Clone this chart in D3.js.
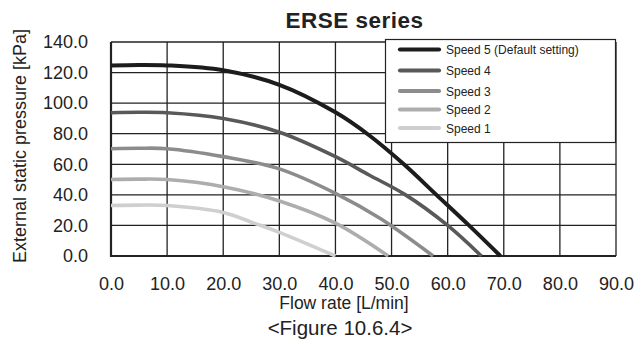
<!DOCTYPE html>
<html><head><meta charset="utf-8">
<script src="https://cdn.jsdelivr.net/npm/d3@7"></script>
<style>body{margin:0;background:#fff}svg{display:block;font-family:Arial,"Liberation Sans",sans-serif}</style>
</head><body><svg id="c" width="639" height="340"></svg>
<script>
const seriesNames = ["Speed 5 (Default setting)","Speed 4","Speed 3","Speed 2","Speed 1"];
const seriesColors = ["#1c1c1c","#595959","#8c8c8c","#adadad","#cfcfcf"];
const speed5 = [[0,124.6],[5,125],[10,124.7],[20,121.5],[30,112],[40,94],[46,79],[52.2,60],[58,40],[63.8,20],[69.4,0]];
const speed4 = [[0,93.7],[5,94],[10,93.7],[20,90],[30,81],[40,65],[46,53],[52.5,40],[60,20],[66,0]];
const speed3 = [[0,70.2],[5,70.5],[10,70.2],[20,65],[30,57],[40,41],[48,24.5],[57.4,0]];
const speed2 = [[0,50],[5,50.3],[10,50],[20,45.3],[30,36],[40,21.5],[49.4,0]];
const speed1 = [[0,33],[5,33.3],[10,33],[20,28.5],[25.5,21.5],[30,15.5],[40,0]];
const seriesData = [speed5,speed4,speed3,speed2,speed1];
const xTicks = [0,10,20,30,40,50,60,70,80,90];
const yTicks = [0,20,40,60,80,100,120,140];

const svg = d3.select("#c");
const L=111,R=616,T=42,B=256;
const x = d3.scaleLinear().domain([0,90]).range([L,R]);
const y = d3.scaleLinear().domain([0,140]).range([B,T]);

// grid
const g = svg.append("g");
g.selectAll(".vx").data(xTicks).join("line")
  .attr("x1",d=>x(d)).attr("x2",d=>x(d)).attr("y1",T).attr("y2",B)
  .attr("stroke","#222").attr("stroke-width",1.3);
g.selectAll(".hy").data(yTicks).join("line")
  .attr("x1",L).attr("x2",R).attr("y1",d=>y(d)).attr("y2",d=>y(d))
  .attr("stroke","#222").attr("stroke-width",1.3);
svg.append("line").attr("x1",L).attr("x2",L).attr("y1",T).attr("y2",B+1).attr("stroke","#222").attr("stroke-width",2.2);
svg.append("line").attr("x1",L-1).attr("x2",R).attr("y1",B).attr("y2",B).attr("stroke","#222").attr("stroke-width",2.2);

// axes (tick labels via d3 axes)
const xa = svg.append("g").attr("transform",`translate(0,${B})`)
  .call(d3.axisBottom(x).tickValues(xTicks).tickFormat(d3.format(".1f")).tickSize(0).tickPadding(21));
const ya = svg.append("g").attr("transform",`translate(${L},0)`)
  .call(d3.axisLeft(y).tickValues(yTicks).tickFormat(d3.format(".1f")).tickSize(0).tickPadding(23));
[xa,ya].forEach(a=>{a.select(".domain").remove();a.selectAll("text").attr("font-size",18).attr("fill","#222").attr("font-family","Arial,'Liberation Sans',sans-serif");});

// curves
const line = d3.line().x(d=>x(d[0])).y(d=>y(d[1])).curve(d3.curveCatmullRom.alpha(0.5));
seriesData.slice().reverse().forEach((s,i)=>{
  const idx = seriesData.length-1-i;
  svg.append("path").attr("d",line(s)).attr("fill","none")
    .attr("stroke",seriesColors[idx]).attr("stroke-width",idx===0?4:3.6);
});

// legend
const lg = svg.append("g");
lg.append("rect").attr("x",385.5).attr("y",39.5).attr("width",230).attr("height",103)
  .attr("fill","#fff").attr("stroke","#222").attr("stroke-width",1.2);
const rowsY=[49.5,70.5,91,109.5,128];
seriesNames.forEach((n,i)=>{
  lg.append("line").attr("x1",400).attr("x2",439).attr("y1",rowsY[i]).attr("y2",rowsY[i])
    .attr("stroke",seriesColors[i]).attr("stroke-width",4.2).attr("stroke-linecap","round");
  lg.append("text").attr("x",446).attr("y",rowsY[i]+4.5).attr("font-size",12).attr("fill","#222").text(n);
});

// titles
svg.append("text").attr("x",354.5).attr("y",28).attr("text-anchor","middle").attr("font-size",22.5)
  .attr("letter-spacing",0.5).attr("font-weight","bold").attr("fill","#222").text("ERSE series");
svg.append("text").attr("transform","translate(26,146) rotate(-90)").attr("text-anchor","middle")
  .attr("font-size",18).attr("fill","#222").text("External static pressure [kPa]");
svg.append("text").attr("x",344).attr("y",309).attr("text-anchor","middle").attr("font-size",17.5)
  .attr("fill","#222").text("Flow rate [L/min]");
svg.append("text").attr("x",340).attr("y",335).attr("text-anchor","middle").attr("font-size",20.5)
  .attr("fill","#222").text("<Figure 10.6.4>");
</script></body></html>
